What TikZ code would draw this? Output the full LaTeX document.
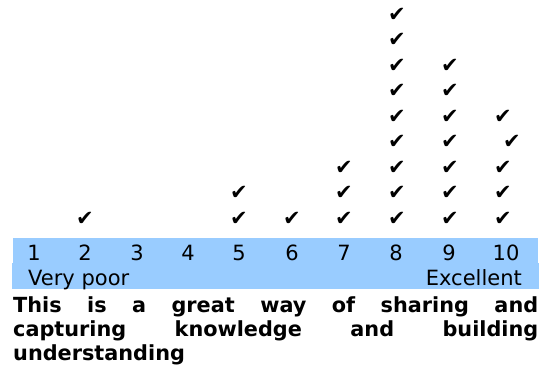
\documentclass[tikz,border=0pt]{standalone}
\usepackage{fontspec}
\setmainfont{DejaVu Sans}
\definecolor{bandblue}{HTML}{99CCFF}
\begin{document}
\begin{tikzpicture}[x=1pt,y=-1pt,
  num/.style={anchor=base,inner sep=0pt,font=\fontsize{21}{24}\selectfont},
  lbl/.style={inner sep=0pt,font=\fontsize{21}{24}\selectfont},
  tick/.style={inner sep=0pt,font=\fontsize{21}{21}\selectfont},
  bold/.style={anchor=base west,inner sep=0pt,font=\fontsize{20.8}{24}\selectfont\bfseries},
  band/.style={fill=bandblue,draw=none}]
\useasboundingbox (0,0) rectangle (543,369);
\path[band] (13,238) rectangle (538,263.5);
\path[band] (12,263) rectangle (539,289);
% numbers
\foreach \i/\x in {1/34,2/85,3/137,4/188,5/239,6/292,7/344,8/396,9/449,10/506}
  \node[num] (n\i) at (\x,260) {\i};
\node[lbl,anchor=base west] (poor) at (28,285) {Very poor};
\node[lbl,anchor=base east] (exc) at (522,285) {Excellent};
% ticks
\foreach \c/\x/\k in {2/85/1,5/239/2,6/292/1,7/344/3,8/397/9,9/450/7}
  \foreach \r in {1,...,\k}
    \node[tick] (c\c-\r) at (\x,{218.5-25.5*(\r-1)}) {✔};
\foreach \r/\x in {1/503,2/503,3/503,4/512,5/503}
  \node[tick] (c10-\r) at (\x,{218.5-25.5*(\r-1)}) {✔};
% text
\node[bold] (l1) at (13,312) {\hbox to 525pt{This\hfill is\hfill a\hfill great\hfill way\hfill of\hfill sharing\hfill and}};
\node[bold] (l2) at (13,336) {\hbox to 525pt{capturing\hfill knowledge\hfill and\hfill building}};
\node[bold] (l3) at (13,360) {understanding};
\end{tikzpicture}
\end{document}
